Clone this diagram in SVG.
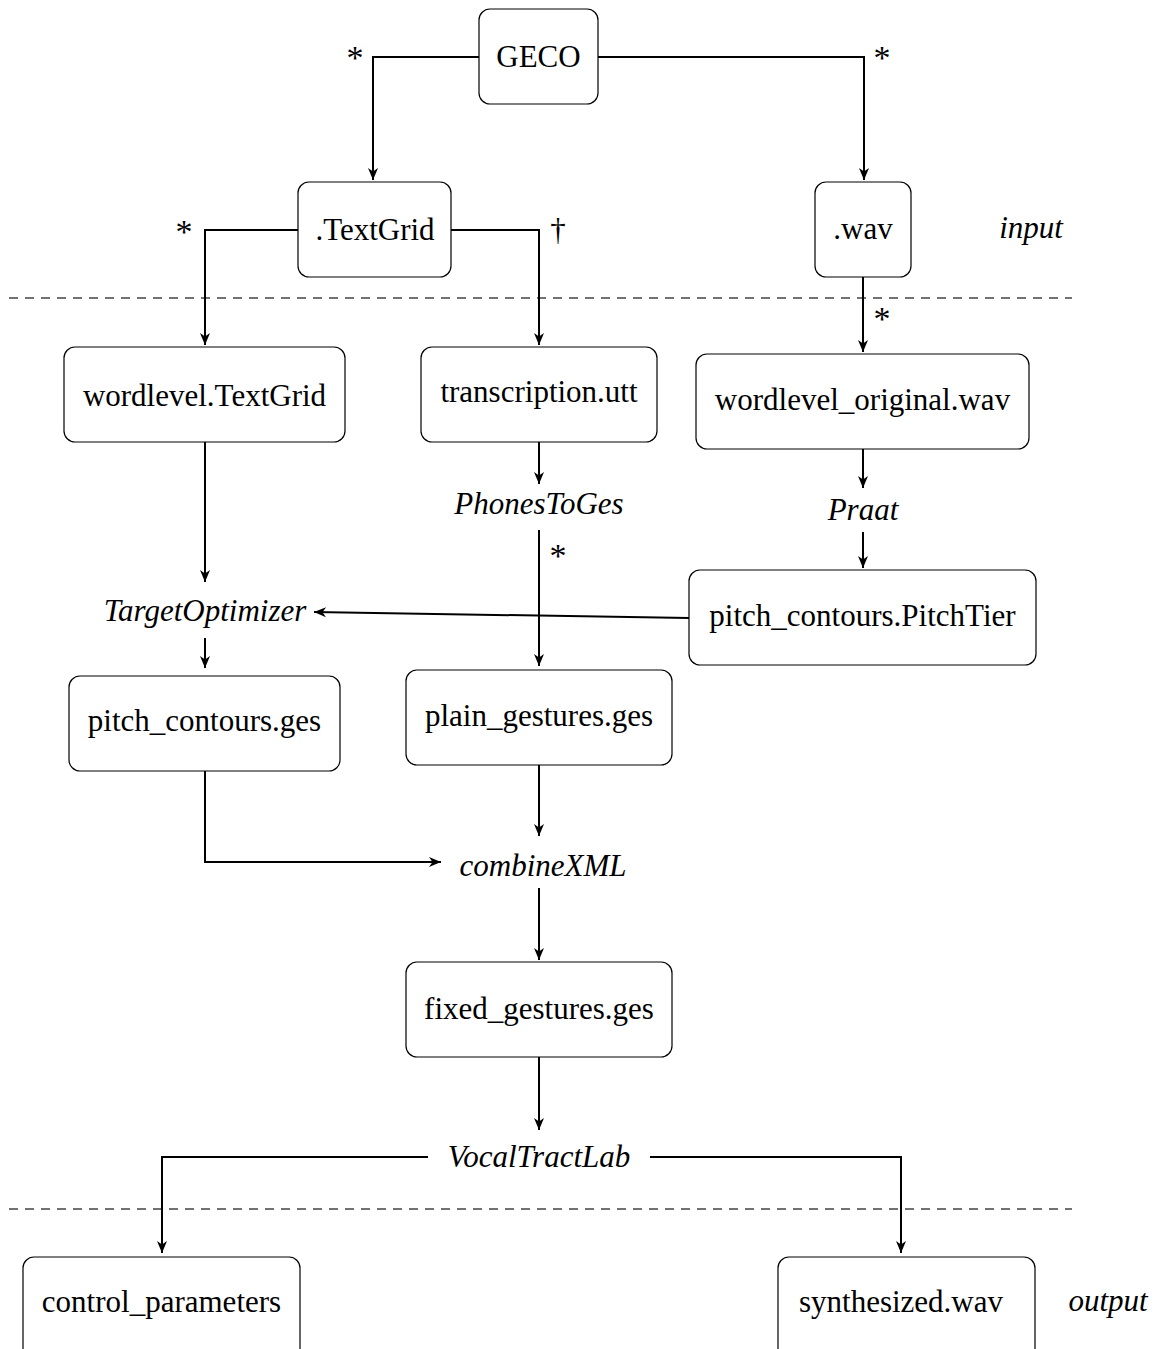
<svg xmlns="http://www.w3.org/2000/svg" width="1157" height="1349" viewBox="0 0 1157 1349">
<style>
.box{fill:#fff;stroke:#000;stroke-width:1.2}
.t{font-family:"Liberation Serif","Times New Roman",serif;font-size:31px;fill:#000;text-anchor:middle}
.i{font-style:italic}
.c{fill:none;stroke:#000;stroke-width:2}
.d{fill:none;stroke:#444;stroke-width:1.3;stroke-dasharray:9 7}
.s{font-family:"Liberation Serif","Times New Roman",serif;font-size:34px;fill:#000;text-anchor:middle}
</style>
<defs>
<marker id="ah" viewBox="-13 -6 14 12" refX="0" refY="0" markerWidth="14" markerHeight="12" markerUnits="userSpaceOnUse" orient="auto">
<path d="M0,0 L-12,-5 L-8.5,0 L-12,5 Z" fill="#000"/>
</marker>
</defs>
<rect width="1157" height="1349" fill="#fff"/>
<g id="separators">
<line class="d" x1="9" y1="298" x2="1072" y2="298"/>
<line class="d" x1="9" y1="1209" x2="1072" y2="1209"/>
</g>
<g id="connectors">
<path class="c" d="M479,57 H373 V180" marker-end="url(#ah)"/>
<path class="c" d="M598,57 H864 V180" marker-end="url(#ah)"/>
<path class="c" d="M298,230 H205 V345" marker-end="url(#ah)"/>
<path class="c" d="M451,230 H539 V345" marker-end="url(#ah)"/>
<path class="c" d="M863,277 V352" marker-end="url(#ah)"/>
<path class="c" d="M539,442 V484" marker-end="url(#ah)"/>
<path class="c" d="M539,530 V666" marker-end="url(#ah)"/>
<path class="c" d="M863,449 V488" marker-end="url(#ah)"/>
<path class="c" d="M863,532 V568" marker-end="url(#ah)"/>
<path class="c" d="M205,442 V582" marker-end="url(#ah)"/>
<path class="c" d="M689,618 L314,612" marker-end="url(#ah)"/>
<path class="c" d="M205,638 V668" marker-end="url(#ah)"/>
<path class="c" d="M205,771 V862 H441" marker-end="url(#ah)"/>
<path class="c" d="M539,765 V836" marker-end="url(#ah)"/>
<path class="c" d="M539,888 V960" marker-end="url(#ah)"/>
<path class="c" d="M539,1057 V1130" marker-end="url(#ah)"/>
<path class="c" d="M428,1157 H162 V1253" marker-end="url(#ah)"/>
<path class="c" d="M650,1157 H901 V1253" marker-end="url(#ah)"/>
</g>
<g id="connector-labels">
<text class="s" x="355" y="69">*</text>
<text class="s" x="882" y="69">*</text>
<text class="s" x="184" y="243">*</text>
<text class="t" x="558" y="240">†</text>
<text class="s" x="882" y="330">*</text>
<text class="s" x="558" y="567">*</text>
</g>
<g id="GECO"><rect class="box" x="479" y="9" width="119" height="95" rx="11"/><text class="t" x="538.5" y="67">GECO</text></g>
<g id="TextGrid"><rect class="box" x="298" y="182" width="153" height="95" rx="11"/><text class="t" x="375" y="240">.TextGrid</text></g>
<g id="wav"><rect class="box" x="815" y="182" width="96" height="95" rx="11"/><text class="t" x="863" y="239">.wav</text></g>
<g id="input-label"><text class="t i" x="1031" y="238">input</text></g>
<g id="wordlevel-TextGrid"><rect class="box" x="64" y="347" width="281" height="95" rx="11"/><text class="t" x="204.5" y="406">wordlevel.TextGrid</text></g>
<g id="transcription-utt"><rect class="box" x="421" y="347" width="236" height="95" rx="11"/><text class="t" x="539" y="402">transcription.utt</text></g>
<g id="wordlevel-original-wav"><rect class="box" x="696" y="354" width="333" height="95" rx="11"/><text class="t" x="862.5" y="410">wordlevel_original.wav</text></g>
<g id="PhonesToGes"><text class="t i" x="539" y="514">PhonesToGes</text></g>
<g id="Praat"><text class="t i" x="863" y="520">Praat</text></g>
<g id="pitch-contours-PitchTier"><rect class="box" x="689" y="570" width="347" height="95" rx="11"/><text class="t" x="862.5" y="626">pitch_contours.PitchTier</text></g>
<g id="TargetOptimizer"><text class="t i" x="205" y="621">TargetOptimizer</text></g>
<g id="pitch-contours-ges"><rect class="box" x="69" y="676" width="271" height="95" rx="11"/><text class="t" x="204.5" y="731">pitch_contours.ges</text></g>
<g id="plain-gestures-ges"><rect class="box" x="406" y="670" width="266" height="95" rx="11"/><text class="t" x="539" y="726">plain_gestures.ges</text></g>
<g id="combineXML"><text class="t i" x="543" y="876">combineXML</text></g>
<g id="fixed-gestures-ges"><rect class="box" x="406" y="962" width="266" height="95" rx="11"/><text class="t" x="539" y="1019">fixed_gestures.ges</text></g>
<g id="VocalTractLab"><text class="t i" x="539" y="1167">VocalTractLab</text></g>
<g id="control-parameters"><rect class="box" x="23" y="1257" width="277" height="120" rx="11"/><text class="t" x="161.5" y="1312">control_parameters</text></g>
<g id="synthesized-wav"><rect class="box" x="778" y="1257" width="257" height="120" rx="11"/><text class="t" x="901" y="1312">synthesized.wav</text></g>
<g id="output-label"><text class="t i" x="1108" y="1311">output</text></g>
</svg>
